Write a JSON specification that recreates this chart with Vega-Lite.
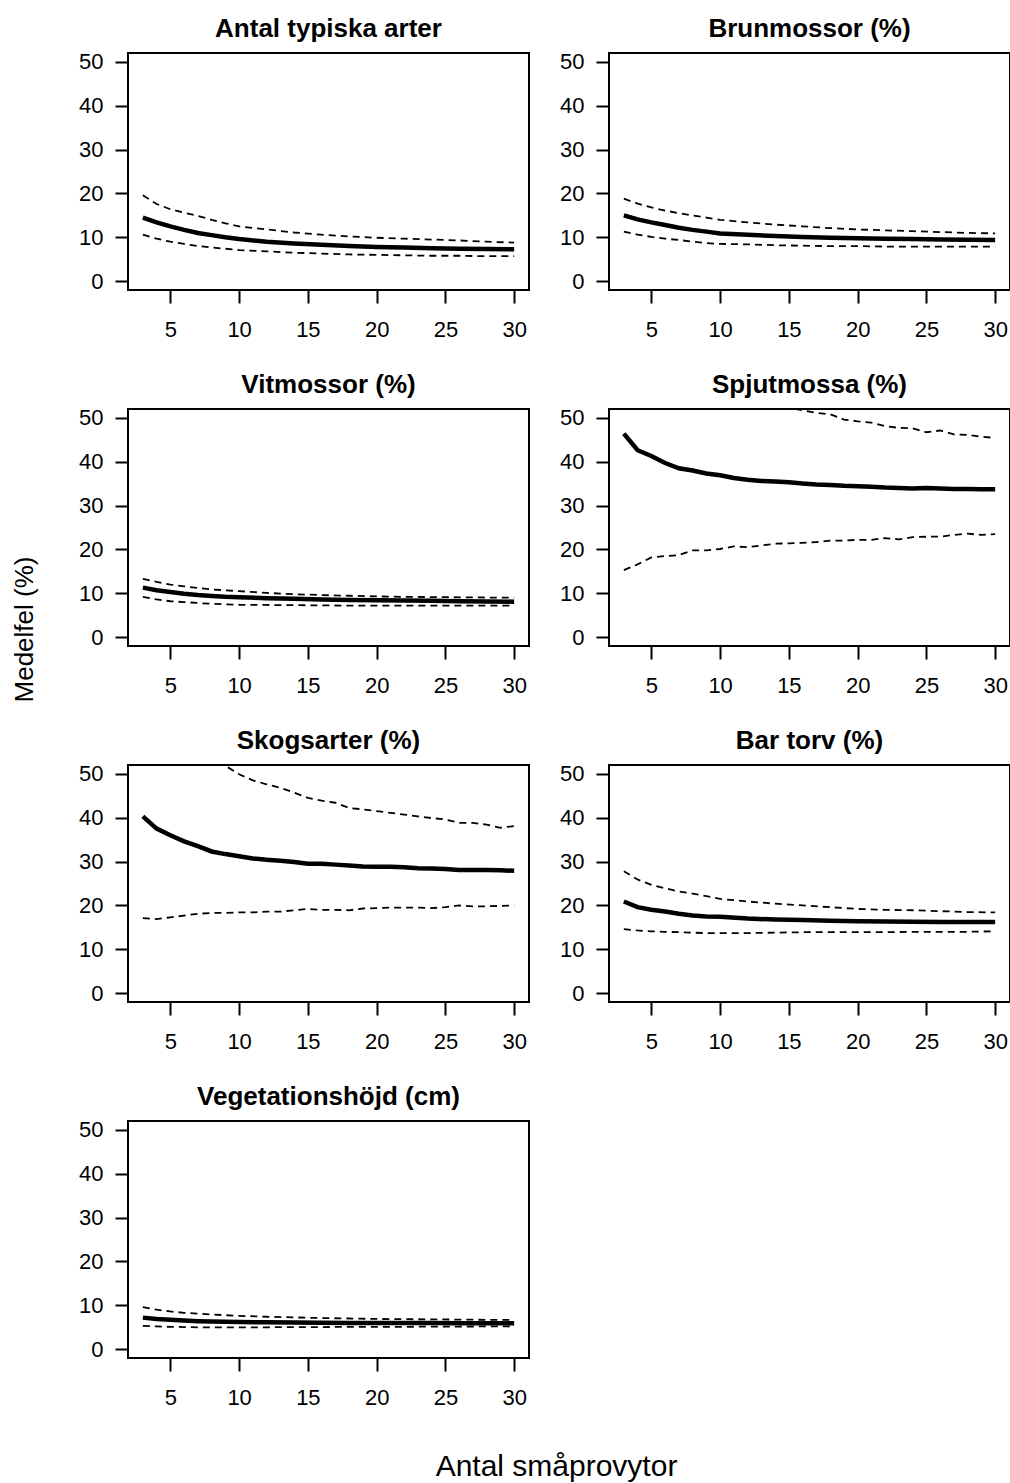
{
  "$schema": "https://vega.github.io/schema/vega-lite/v6.json",
  "background": "white",
  "padding": {"left": 10, "top": 14, "right": 0, "bottom": 2},
  "config": {
    "font": "Liberation Sans",
    "view": {"stroke": "black", "strokeWidth": 2},
    "title": {"fontSize": 26, "fontWeight": "bold", "font": "Liberation Sans", "color": "black", "frame": "group", "baseline": "alphabetic", "offset": 9, "anchor": "middle"},
    "axis": {"labelColor": "black", "tickColor": "black", "titleColor": "black", "grid": false, "domain": false, "tickSize": 13, "tickWidth": 2, "labelFontSize": 22, "labelFont": "Liberation Sans", "titleFont": "Liberation Sans", "titleFontWeight": "normal"},
    "axisX": {"labelPadding": 16},
    "axisY": {"labelPadding": 12}
  },
  "data": {"values": [
    {"p":"Antal typiska arter","n":3,"m":14.5,"hi":19.6,"lo":10.6},
    {"p":"Antal typiska arter","n":4,"m":13.4,"hi":17.6,"lo":9.7},
    {"p":"Antal typiska arter","n":5,"m":12.5,"hi":16.4,"lo":9.0},
    {"p":"Antal typiska arter","n":6,"m":11.7,"hi":15.6,"lo":8.5},
    {"p":"Antal typiska arter","n":7,"m":11.0,"hi":14.9,"lo":8.0},
    {"p":"Antal typiska arter","n":8,"m":10.5,"hi":14.0,"lo":7.7},
    {"p":"Antal typiska arter","n":9,"m":10.0,"hi":13.2,"lo":7.4},
    {"p":"Antal typiska arter","n":10,"m":9.6,"hi":12.5,"lo":7.1},
    {"p":"Antal typiska arter","n":12,"m":9.0,"hi":11.8,"lo":6.8},
    {"p":"Antal typiska arter","n":14,"m":8.6,"hi":11.1,"lo":6.5},
    {"p":"Antal typiska arter","n":16,"m":8.3,"hi":10.6,"lo":6.3},
    {"p":"Antal typiska arter","n":18,"m":8.0,"hi":10.2,"lo":6.1},
    {"p":"Antal typiska arter","n":20,"m":7.8,"hi":9.9,"lo":6.0},
    {"p":"Antal typiska arter","n":22,"m":7.7,"hi":9.7,"lo":5.9},
    {"p":"Antal typiska arter","n":24,"m":7.5,"hi":9.5,"lo":5.8},
    {"p":"Antal typiska arter","n":26,"m":7.4,"hi":9.3,"lo":5.8},
    {"p":"Antal typiska arter","n":28,"m":7.35,"hi":9.0,"lo":5.7},
    {"p":"Antal typiska arter","n":30,"m":7.3,"hi":8.8,"lo":5.7},

    {"p":"Brunmossor (%)","n":3,"m":15.0,"hi":18.8,"lo":11.3},
    {"p":"Brunmossor (%)","n":4,"m":14.1,"hi":17.7,"lo":10.6},
    {"p":"Brunmossor (%)","n":5,"m":13.4,"hi":16.8,"lo":10.1},
    {"p":"Brunmossor (%)","n":6,"m":12.8,"hi":16.1,"lo":9.7},
    {"p":"Brunmossor (%)","n":7,"m":12.2,"hi":15.5,"lo":9.4},
    {"p":"Brunmossor (%)","n":8,"m":11.7,"hi":15.0,"lo":9.0},
    {"p":"Brunmossor (%)","n":9,"m":11.3,"hi":14.5,"lo":8.7},
    {"p":"Brunmossor (%)","n":10,"m":10.9,"hi":14.0,"lo":8.5},
    {"p":"Brunmossor (%)","n":12,"m":10.6,"hi":13.4,"lo":8.4},
    {"p":"Brunmossor (%)","n":14,"m":10.3,"hi":12.9,"lo":8.2},
    {"p":"Brunmossor (%)","n":16,"m":10.1,"hi":12.5,"lo":8.1},
    {"p":"Brunmossor (%)","n":18,"m":9.9,"hi":12.1,"lo":8.0},
    {"p":"Brunmossor (%)","n":20,"m":9.8,"hi":11.8,"lo":8.0},
    {"p":"Brunmossor (%)","n":22,"m":9.7,"hi":11.6,"lo":7.9},
    {"p":"Brunmossor (%)","n":24,"m":9.6,"hi":11.4,"lo":7.9},
    {"p":"Brunmossor (%)","n":26,"m":9.5,"hi":11.2,"lo":7.9},
    {"p":"Brunmossor (%)","n":28,"m":9.45,"hi":11.0,"lo":7.9},
    {"p":"Brunmossor (%)","n":30,"m":9.4,"hi":10.9,"lo":7.9},

    {"p":"Vitmossor (%)","n":3,"m":11.3,"hi":13.3,"lo":9.2},
    {"p":"Vitmossor (%)","n":4,"m":10.7,"hi":12.6,"lo":8.6},
    {"p":"Vitmossor (%)","n":5,"m":10.3,"hi":12.0,"lo":8.2},
    {"p":"Vitmossor (%)","n":6,"m":9.9,"hi":11.6,"lo":8.0},
    {"p":"Vitmossor (%)","n":7,"m":9.6,"hi":11.2,"lo":7.8},
    {"p":"Vitmossor (%)","n":8,"m":9.4,"hi":10.9,"lo":7.6},
    {"p":"Vitmossor (%)","n":9,"m":9.2,"hi":10.7,"lo":7.5},
    {"p":"Vitmossor (%)","n":10,"m":9.1,"hi":10.5,"lo":7.4},
    {"p":"Vitmossor (%)","n":12,"m":8.9,"hi":10.1,"lo":7.35},
    {"p":"Vitmossor (%)","n":14,"m":8.75,"hi":9.8,"lo":7.3},
    {"p":"Vitmossor (%)","n":16,"m":8.6,"hi":9.6,"lo":7.25},
    {"p":"Vitmossor (%)","n":18,"m":8.5,"hi":9.45,"lo":7.2},
    {"p":"Vitmossor (%)","n":20,"m":8.4,"hi":9.3,"lo":7.2},
    {"p":"Vitmossor (%)","n":22,"m":8.35,"hi":9.2,"lo":7.2},
    {"p":"Vitmossor (%)","n":24,"m":8.3,"hi":9.15,"lo":7.2},
    {"p":"Vitmossor (%)","n":26,"m":8.2,"hi":9.1,"lo":7.2},
    {"p":"Vitmossor (%)","n":28,"m":8.15,"hi":9.05,"lo":7.2},
    {"p":"Vitmossor (%)","n":30,"m":8.1,"hi":9.0,"lo":7.2},

    {"p":"Spjutmossa (%)","n":3,"m":46.4,"hi":85,"lo":15.3},
    {"p":"Spjutmossa (%)","n":4,"m":42.6,"hi":75,"lo":16.6},
    {"p":"Spjutmossa (%)","n":5,"m":41.3,"hi":70,"lo":18.2},
    {"p":"Spjutmossa (%)","n":6,"m":39.7,"hi":66,"lo":18.5},
    {"p":"Spjutmossa (%)","n":7,"m":38.5,"hi":63,"lo":18.7},
    {"p":"Spjutmossa (%)","n":8,"m":38.0,"hi":61,"lo":19.8},
    {"p":"Spjutmossa (%)","n":9,"m":37.3,"hi":59,"lo":19.8},
    {"p":"Spjutmossa (%)","n":10,"m":36.9,"hi":57.5,"lo":20.1},
    {"p":"Spjutmossa (%)","n":11,"m":36.3,"hi":56,"lo":20.7},
    {"p":"Spjutmossa (%)","n":12,"m":35.9,"hi":55,"lo":20.5},
    {"p":"Spjutmossa (%)","n":13,"m":35.6,"hi":54,"lo":20.9},
    {"p":"Spjutmossa (%)","n":14,"m":35.5,"hi":53,"lo":21.3},
    {"p":"Spjutmossa (%)","n":15,"m":35.3,"hi":52.3,"lo":21.4},
    {"p":"Spjutmossa (%)","n":16,"m":35.0,"hi":51.7,"lo":21.5},
    {"p":"Spjutmossa (%)","n":17,"m":34.8,"hi":51.1,"lo":21.7},
    {"p":"Spjutmossa (%)","n":18,"m":34.7,"hi":50.8,"lo":22.0},
    {"p":"Spjutmossa (%)","n":19,"m":34.5,"hi":49.6,"lo":22.0},
    {"p":"Spjutmossa (%)","n":20,"m":34.4,"hi":49.2,"lo":22.2},
    {"p":"Spjutmossa (%)","n":21,"m":34.3,"hi":48.9,"lo":22.2},
    {"p":"Spjutmossa (%)","n":22,"m":34.1,"hi":48.1,"lo":22.6},
    {"p":"Spjutmossa (%)","n":23,"m":34.0,"hi":47.7,"lo":22.3},
    {"p":"Spjutmossa (%)","n":24,"m":33.9,"hi":47.6,"lo":22.8},
    {"p":"Spjutmossa (%)","n":25,"m":34.0,"hi":46.7,"lo":22.9},
    {"p":"Spjutmossa (%)","n":26,"m":33.9,"hi":47.1,"lo":22.9},
    {"p":"Spjutmossa (%)","n":27,"m":33.8,"hi":46.2,"lo":23.3},
    {"p":"Spjutmossa (%)","n":28,"m":33.8,"hi":46.1,"lo":23.6},
    {"p":"Spjutmossa (%)","n":29,"m":33.7,"hi":45.7,"lo":23.3},
    {"p":"Spjutmossa (%)","n":30,"m":33.7,"hi":45.4,"lo":23.5},

    {"p":"Skogsarter (%)","n":3,"m":40.3,"hi":80,"lo":17.1},
    {"p":"Skogsarter (%)","n":4,"m":37.5,"hi":70,"lo":16.9},
    {"p":"Skogsarter (%)","n":5,"m":36.0,"hi":64,"lo":17.3},
    {"p":"Skogsarter (%)","n":6,"m":34.6,"hi":60,"lo":17.7},
    {"p":"Skogsarter (%)","n":7,"m":33.5,"hi":56.5,"lo":18.1},
    {"p":"Skogsarter (%)","n":8,"m":32.3,"hi":53.8,"lo":18.3},
    {"p":"Skogsarter (%)","n":9,"m":31.7,"hi":51.8,"lo":18.3},
    {"p":"Skogsarter (%)","n":10,"m":31.2,"hi":49.9,"lo":18.4},
    {"p":"Skogsarter (%)","n":11,"m":30.7,"hi":48.5,"lo":18.4},
    {"p":"Skogsarter (%)","n":12,"m":30.4,"hi":47.6,"lo":18.6},
    {"p":"Skogsarter (%)","n":13,"m":30.2,"hi":46.8,"lo":18.6},
    {"p":"Skogsarter (%)","n":14,"m":29.9,"hi":45.7,"lo":18.9},
    {"p":"Skogsarter (%)","n":15,"m":29.5,"hi":44.5,"lo":19.2},
    {"p":"Skogsarter (%)","n":16,"m":29.5,"hi":43.9,"lo":19.0},
    {"p":"Skogsarter (%)","n":17,"m":29.3,"hi":43.4,"lo":19.0},
    {"p":"Skogsarter (%)","n":18,"m":29.1,"hi":42.2,"lo":18.9},
    {"p":"Skogsarter (%)","n":19,"m":28.9,"hi":41.9,"lo":19.3},
    {"p":"Skogsarter (%)","n":20,"m":28.8,"hi":41.5,"lo":19.4},
    {"p":"Skogsarter (%)","n":21,"m":28.8,"hi":41.1,"lo":19.5},
    {"p":"Skogsarter (%)","n":22,"m":28.7,"hi":40.7,"lo":19.5},
    {"p":"Skogsarter (%)","n":23,"m":28.5,"hi":40.3,"lo":19.5},
    {"p":"Skogsarter (%)","n":24,"m":28.4,"hi":39.9,"lo":19.4},
    {"p":"Skogsarter (%)","n":25,"m":28.3,"hi":39.6,"lo":19.6},
    {"p":"Skogsarter (%)","n":26,"m":28.1,"hi":38.8,"lo":20.0},
    {"p":"Skogsarter (%)","n":27,"m":28.1,"hi":38.8,"lo":19.8},
    {"p":"Skogsarter (%)","n":28,"m":28.1,"hi":38.4,"lo":19.8},
    {"p":"Skogsarter (%)","n":29,"m":28.0,"hi":37.7,"lo":19.9},
    {"p":"Skogsarter (%)","n":30,"m":27.9,"hi":38.1,"lo":20.0},

    {"p":"Bar torv (%)","n":3,"m":20.9,"hi":27.8,"lo":14.6},
    {"p":"Bar torv (%)","n":4,"m":19.6,"hi":25.9,"lo":14.3},
    {"p":"Bar torv (%)","n":5,"m":19.0,"hi":24.7,"lo":14.1},
    {"p":"Bar torv (%)","n":6,"m":18.6,"hi":23.9,"lo":14.0},
    {"p":"Bar torv (%)","n":7,"m":18.1,"hi":23.2,"lo":13.9},
    {"p":"Bar torv (%)","n":8,"m":17.7,"hi":22.7,"lo":13.8},
    {"p":"Bar torv (%)","n":9,"m":17.5,"hi":22.1,"lo":13.7},
    {"p":"Bar torv (%)","n":10,"m":17.4,"hi":21.5,"lo":13.7},
    {"p":"Bar torv (%)","n":12,"m":17.0,"hi":20.9,"lo":13.7},
    {"p":"Bar torv (%)","n":14,"m":16.8,"hi":20.4,"lo":13.8},
    {"p":"Bar torv (%)","n":16,"m":16.7,"hi":20.0,"lo":13.9},
    {"p":"Bar torv (%)","n":18,"m":16.5,"hi":19.6,"lo":13.9},
    {"p":"Bar torv (%)","n":20,"m":16.4,"hi":19.2,"lo":13.9},
    {"p":"Bar torv (%)","n":22,"m":16.35,"hi":19.0,"lo":13.9},
    {"p":"Bar torv (%)","n":24,"m":16.3,"hi":18.9,"lo":14.0},
    {"p":"Bar torv (%)","n":26,"m":16.25,"hi":18.7,"lo":14.0},
    {"p":"Bar torv (%)","n":28,"m":16.2,"hi":18.5,"lo":14.0},
    {"p":"Bar torv (%)","n":30,"m":16.2,"hi":18.4,"lo":14.1},

    {"p":"Vegetationshöjd (cm)","n":3,"m":7.2,"hi":9.6,"lo":5.3},
    {"p":"Vegetationshöjd (cm)","n":4,"m":6.9,"hi":9.0,"lo":5.2},
    {"p":"Vegetationshöjd (cm)","n":5,"m":6.7,"hi":8.6,"lo":5.1},
    {"p":"Vegetationshöjd (cm)","n":6,"m":6.55,"hi":8.3,"lo":5.05},
    {"p":"Vegetationshöjd (cm)","n":7,"m":6.4,"hi":8.1,"lo":5.0},
    {"p":"Vegetationshöjd (cm)","n":8,"m":6.3,"hi":7.9,"lo":5.0},
    {"p":"Vegetationshöjd (cm)","n":9,"m":6.25,"hi":7.75,"lo":5.0},
    {"p":"Vegetationshöjd (cm)","n":10,"m":6.2,"hi":7.6,"lo":5.0},
    {"p":"Vegetationshöjd (cm)","n":12,"m":6.15,"hi":7.4,"lo":5.0},
    {"p":"Vegetationshöjd (cm)","n":14,"m":6.1,"hi":7.25,"lo":5.05},
    {"p":"Vegetationshöjd (cm)","n":16,"m":6.05,"hi":7.1,"lo":5.05},
    {"p":"Vegetationshöjd (cm)","n":18,"m":6.0,"hi":7.0,"lo":5.1},
    {"p":"Vegetationshöjd (cm)","n":20,"m":6.0,"hi":6.9,"lo":5.1},
    {"p":"Vegetationshöjd (cm)","n":22,"m":5.95,"hi":6.85,"lo":5.1},
    {"p":"Vegetationshöjd (cm)","n":24,"m":5.95,"hi":6.8,"lo":5.15},
    {"p":"Vegetationshöjd (cm)","n":26,"m":5.9,"hi":6.75,"lo":5.15},
    {"p":"Vegetationshöjd (cm)","n":28,"m":5.9,"hi":6.7,"lo":5.2},
    {"p":"Vegetationshöjd (cm)","n":30,"m":5.9,"hi":6.7,"lo":5.2}
  ]},
  "columns": 2,
  "bounds": "flush",
  "spacing": {"row": 119, "column": 80},
  "concat": [
    {
      "title": "Antal typiska arter", "width": 401, "height": 237,
      "transform": [{"filter": "datum.p == 'Antal typiska arter'"}],
      "encoding": {
        "x": {"field": "n", "type": "quantitative", "scale": {"domain": [1.92, 31.08], "nice": false, "zero": false}, "axis": {"title": null, "values": [5, 10, 15, 20, 25, 30]}}
      },
      "layer": [
        {"mark": {"type": "line", "color": "black", "clip": true, "strokeWidth": 1.8, "strokeDash": [7, 5]}, "encoding": {"y": {"field": "hi", "type": "quantitative", "scale": {"domain": [-2, 52], "nice": false, "zero": false}, "axis": {"title": null, "values": [0, 10, 20, 30, 40, 50]}}}},
        {"mark": {"type": "line", "color": "black", "clip": true, "strokeWidth": 1.8, "strokeDash": [7, 5]}, "encoding": {"y": {"field": "lo", "type": "quantitative"}}},
        {"mark": {"type": "line", "color": "black", "clip": true, "strokeWidth": 4.5}, "encoding": {"y": {"field": "m", "type": "quantitative"}}}
      ]
    },
    {
      "title": "Brunmossor (%)", "width": 401, "height": 237,
      "transform": [{"filter": "datum.p == 'Brunmossor (%)'"}],
      "encoding": {
        "x": {"field": "n", "type": "quantitative", "scale": {"domain": [1.92, 31.08], "nice": false, "zero": false}, "axis": {"title": null, "values": [5, 10, 15, 20, 25, 30]}}
      },
      "layer": [
        {"mark": {"type": "line", "color": "black", "clip": true, "strokeWidth": 1.8, "strokeDash": [7, 5]}, "encoding": {"y": {"field": "hi", "type": "quantitative", "scale": {"domain": [-2, 52], "nice": false, "zero": false}, "axis": {"title": null, "values": [0, 10, 20, 30, 40, 50]}}}},
        {"mark": {"type": "line", "color": "black", "clip": true, "strokeWidth": 1.8, "strokeDash": [7, 5]}, "encoding": {"y": {"field": "lo", "type": "quantitative"}}},
        {"mark": {"type": "line", "color": "black", "clip": true, "strokeWidth": 4.5}, "encoding": {"y": {"field": "m", "type": "quantitative"}}}
      ]
    },
    {
      "title": "Vitmossor (%)", "width": 401, "height": 237,
      "transform": [{"filter": "datum.p == 'Vitmossor (%)'"}],
      "encoding": {
        "x": {"field": "n", "type": "quantitative", "scale": {"domain": [1.92, 31.08], "nice": false, "zero": false}, "axis": {"title": null, "values": [5, 10, 15, 20, 25, 30]}}
      },
      "layer": [
        {"mark": {"type": "line", "color": "black", "clip": true, "strokeWidth": 1.8, "strokeDash": [7, 5]}, "encoding": {"y": {"field": "hi", "type": "quantitative", "scale": {"domain": [-2, 52], "nice": false, "zero": false},
          "axis": {"values": [0, 10, 20, 30, 40, 50], "title": "Medelfel (%)", "titleFontSize": 26, "titleX": -104, "titleY": 220, "titleAngle": 270, "titleAlign": "center", "titleBaseline": "middle"}}}},
        {"mark": {"type": "line", "color": "black", "clip": true, "strokeWidth": 1.8, "strokeDash": [7, 5]}, "encoding": {"y": {"field": "lo", "type": "quantitative"}}},
        {"mark": {"type": "line", "color": "black", "clip": true, "strokeWidth": 4.5}, "encoding": {"y": {"field": "m", "type": "quantitative"}}}
      ]
    },
    {
      "title": "Spjutmossa (%)", "width": 401, "height": 237,
      "transform": [{"filter": "datum.p == 'Spjutmossa (%)'"}],
      "encoding": {
        "x": {"field": "n", "type": "quantitative", "scale": {"domain": [1.92, 31.08], "nice": false, "zero": false}, "axis": {"title": null, "values": [5, 10, 15, 20, 25, 30]}}
      },
      "layer": [
        {"mark": {"type": "line", "color": "black", "clip": true, "strokeWidth": 1.8, "strokeDash": [7, 5]}, "encoding": {"y": {"field": "hi", "type": "quantitative", "scale": {"domain": [-2, 52], "nice": false, "zero": false}, "axis": {"title": null, "values": [0, 10, 20, 30, 40, 50]}}}},
        {"mark": {"type": "line", "color": "black", "clip": true, "strokeWidth": 1.8, "strokeDash": [7, 5]}, "encoding": {"y": {"field": "lo", "type": "quantitative"}}},
        {"mark": {"type": "line", "color": "black", "clip": true, "strokeWidth": 4.5}, "encoding": {"y": {"field": "m", "type": "quantitative"}}}
      ]
    },
    {
      "title": "Skogsarter (%)", "width": 401, "height": 237,
      "transform": [{"filter": "datum.p == 'Skogsarter (%)'"}],
      "encoding": {
        "x": {"field": "n", "type": "quantitative", "scale": {"domain": [1.92, 31.08], "nice": false, "zero": false}, "axis": {"title": null, "values": [5, 10, 15, 20, 25, 30]}}
      },
      "layer": [
        {"mark": {"type": "line", "color": "black", "clip": true, "strokeWidth": 1.8, "strokeDash": [7, 5]}, "encoding": {"y": {"field": "hi", "type": "quantitative", "scale": {"domain": [-2, 52], "nice": false, "zero": false}, "axis": {"title": null, "values": [0, 10, 20, 30, 40, 50]}}}},
        {"mark": {"type": "line", "color": "black", "clip": true, "strokeWidth": 1.8, "strokeDash": [7, 5]}, "encoding": {"y": {"field": "lo", "type": "quantitative"}}},
        {"mark": {"type": "line", "color": "black", "clip": true, "strokeWidth": 4.5}, "encoding": {"y": {"field": "m", "type": "quantitative"}}}
      ]
    },
    {
      "title": "Bar torv (%)", "width": 401, "height": 237,
      "transform": [{"filter": "datum.p == 'Bar torv (%)'"}],
      "encoding": {
        "x": {"field": "n", "type": "quantitative", "scale": {"domain": [1.92, 31.08], "nice": false, "zero": false}, "axis": {"title": null, "values": [5, 10, 15, 20, 25, 30]}}
      },
      "layer": [
        {"mark": {"type": "line", "color": "black", "clip": true, "strokeWidth": 1.8, "strokeDash": [7, 5]}, "encoding": {"y": {"field": "hi", "type": "quantitative", "scale": {"domain": [-2, 52], "nice": false, "zero": false}, "axis": {"title": null, "values": [0, 10, 20, 30, 40, 50]}}}},
        {"mark": {"type": "line", "color": "black", "clip": true, "strokeWidth": 1.8, "strokeDash": [7, 5]}, "encoding": {"y": {"field": "lo", "type": "quantitative"}}},
        {"mark": {"type": "line", "color": "black", "clip": true, "strokeWidth": 4.5}, "encoding": {"y": {"field": "m", "type": "quantitative"}}}
      ]
    },
    {
      "title": "Vegetationshöjd (cm)", "width": 401, "height": 237,
      "transform": [{"filter": "datum.p == 'Vegetationshöjd (cm)'"}],
      "encoding": {
        "x": {"field": "n", "type": "quantitative", "scale": {"domain": [1.92, 31.08], "nice": false, "zero": false},
          "axis": {"values": [5, 10, 15, 20, 25, 30], "title": "Antal småprovytor", "titleFontSize": 30, "titleX": 428, "titleY": 117, "titleAlign": "center", "titleBaseline": "alphabetic"}}
      },
      "layer": [
        {"mark": {"type": "line", "color": "black", "clip": true, "strokeWidth": 1.8, "strokeDash": [7, 5]}, "encoding": {"y": {"field": "hi", "type": "quantitative", "scale": {"domain": [-2, 52], "nice": false, "zero": false}, "axis": {"title": null, "values": [0, 10, 20, 30, 40, 50]}}}},
        {"mark": {"type": "line", "color": "black", "clip": true, "strokeWidth": 1.8, "strokeDash": [7, 5]}, "encoding": {"y": {"field": "lo", "type": "quantitative"}}},
        {"mark": {"type": "line", "color": "black", "clip": true, "strokeWidth": 4.5}, "encoding": {"y": {"field": "m", "type": "quantitative"}}}
      ]
    }
  ]
}
